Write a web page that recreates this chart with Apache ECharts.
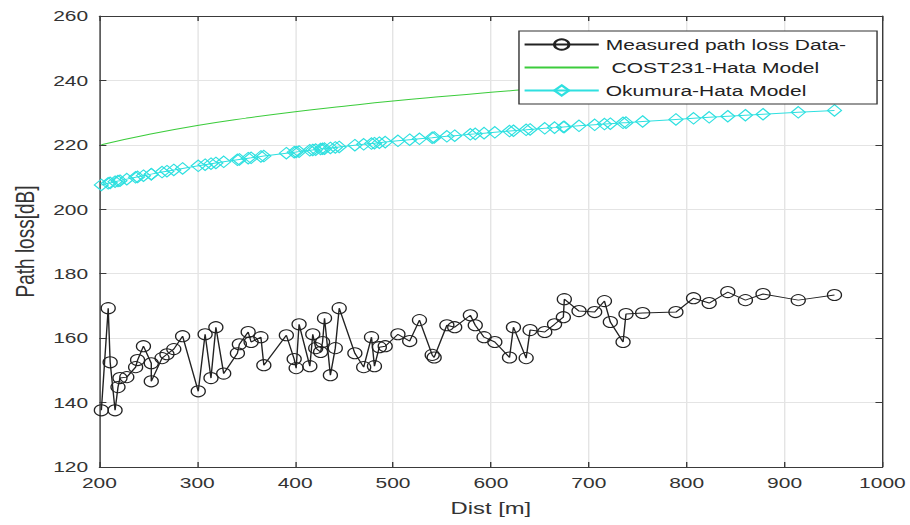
<!DOCTYPE html>
<html><head><meta charset="utf-8">
<script src="https://cdn.jsdelivr.net/npm/echarts@6/dist/echarts.min.js"></script>
<style>
html,body{margin:0;padding:0;background:#fff;overflow:hidden;}
#wrap{width:910px;height:525px;overflow:hidden;}
#chart{width:650px;height:525px;transform:scaleX(1.4);transform-origin:0 0;}
</style></head><body><div id="wrap"><div id="chart"></div></div>
<script>
// Distances (m) of measurement points
const distances = [202,209,211,216,219,221,228,237,239,245,253,253,264,269,276,285,301,308,314,319,327,341,343,352,355,365,368,391,399,401,404,415,418,421,426,428,430,436,441,445,461,470,478,481,486,492,505,517,527,540,542,555,563,579,584,593,604,619,623,636,640,655,665,674,675,690,706,716,722,735,738,755,789,807,823,842,860,878,914,951];
// Measured path loss (dB)
const measured = [137.6,169.3,152.5,137.6,144.8,147.6,147.9,151,153.2,157.5,152.2,146.6,153.8,155,156.6,160.6,143.5,161.2,147.6,163.4,149,155.3,158.1,161.9,158.8,160.3,151.6,160.9,153.5,150.7,164.3,151.3,161.2,156.9,155.7,158.8,166.2,148.5,156.9,169.3,155.3,151,160.3,151.3,157.2,157.5,161.2,159.1,165.6,154.8,154,164,163.4,167.1,164,160.3,158.8,154,163.4,153.8,162.5,161.9,164.3,166.5,172.1,168.4,168.1,171.5,165,158.8,167.5,167.8,168.1,172.4,170.9,174.3,171.8,173.7,171.8,173.4];
// Okumura-Hata model (dB) at the same distances
const okumura = [207.55,208.06,208.2,208.55,208.76,208.89,209.36,209.94,210.06,210.43,210.91,210.91,211.55,211.83,212.21,212.69,213.51,213.85,214.14,214.38,214.74,215.37,215.46,215.85,215.97,216.39,216.51,217.41,217.72,217.79,217.9,218.3,218.41,218.52,218.7,218.77,218.83,219.04,219.21,219.35,219.88,220.17,220.42,220.51,220.67,220.85,221.24,221.59,221.88,222.24,222.3,222.65,222.86,223.28,223.41,223.64,223.91,224.28,224.38,224.68,224.78,225.12,225.35,225.55,225.57,225.9,226.24,226.45,226.58,226.85,226.9,227.25,227.9,228.24,228.54,228.88,229.19,229.5,230.1,230.69];
// COST231-Hata model (dB)
const costDist = [202,250,300,350,400,450,500,550,600,650,700,750,800,850,900,951];
const cost231 = [220.05,223.2,226.0,228.3,230.3,232.0,233.6,235.0,236.3,237.5,238.6,239.6,240.6,241.5,242.4,243.2];
const seriesNames = ['Measured path loss Data-', ' COST231-Hata Model', 'Okumura-Hata Model'];

const FONT = "'Liberation Sans', Arial, Helvetica, sans-serif";
const TXT = '#333';
const AX = '#3a3a3a';
const chart = echarts.init(document.getElementById('chart'), null, {renderer: 'svg'});
const boxAxis = {
  axisLine: {show: true, lineStyle: {color: AX, width: 1}},
  axisTick: {show: true, inside: true, length: 5, lineStyle: {color: AX}},
  axisLabel: {show: false},
  splitLine: {show: false}
};
chart.setOption({
  animation: false,
  backgroundColor: '#fff',
  textStyle: {fontFamily: FONT},
  grid: {left: 67.9, right: 19.3, top: 16, bottom: 58},
  legend: {
    orient: 'vertical', left: 370.7, top: 31,
    itemWidth: 53, itemHeight: 13, itemGap: 8,
    padding: [6, 22, 6, 3],
    backgroundColor: '#fff', borderColor: '#333', borderWidth: 1, borderRadius: 0,
    textStyle: {fontFamily: FONT, fontSize: 15, color: '#222'},
    data: seriesNames
  },
  xAxis: [
    {type: 'value', min: 200, max: 1000, interval: 100,
     name: 'Dist [m]', nameLocation: 'middle', nameGap: 32,
     nameTextStyle: {fontFamily: FONT, fontSize: 17, color: TXT},
     axisLine: {show: true, onZero: false, lineStyle: {color: AX, width: 1}},
     axisTick: {show: true, inside: true, length: 5, lineStyle: {color: AX}},
     axisLabel: {fontFamily: FONT, fontSize: 15, color: TXT, margin: 8, formatter: v => String(v)},
     splitLine: {show: true, lineStyle: {color: '#e4e4e4', width: 1}}},
    Object.assign({type: 'value', position: 'top', min: 200, max: 1000, interval: 100}, boxAxis)
  ],
  yAxis: [
    {type: 'value', min: 120, max: 260, interval: 20,
     name: 'Path loss[dB]', nameLocation: 'middle', nameGap: 44,
     nameTextStyle: {fontFamily: FONT, fontSize: 19, color: TXT},
     axisLine: {show: true, onZero: false, lineStyle: {color: AX, width: 1}},
     axisTick: {show: true, inside: true, length: 5, lineStyle: {color: AX}},
     axisLabel: {fontFamily: FONT, fontSize: 15, color: TXT, margin: 8, formatter: v => String(v)},
     splitLine: {show: true, lineStyle: {color: '#e4e4e4', width: 1}}},
    Object.assign({type: 'value', position: 'right', min: 120, max: 260, interval: 20}, boxAxis)
  ],
  series: [
    {name: seriesNames[0], type: 'line', xAxisIndex: 0, yAxisIndex: 0,
     data: distances.map((d, i) => [d, measured[i]]),
     symbol: 'circle', symbolSize: [10, 11], showAllSymbol: true,
     lineStyle: {color: '#222', width: 1},
     itemStyle: {color: 'rgba(255,255,255,0)', borderColor: '#222', borderWidth: 1}},
    {name: seriesNames[1], type: 'line', xAxisIndex: 0, yAxisIndex: 0,
     data: costDist.map((d, i) => [d, cost231[i]]),
     symbol: 'none', smooth: true,
     lineStyle: {color: '#3ccc3c', width: 1},
     itemStyle: {color: '#3ccc3c', opacity: 0}},
    {name: seriesNames[2], type: 'line', xAxisIndex: 0, yAxisIndex: 0,
     data: distances.map((d, i) => [d, okumura[i]]),
     symbol: 'diamond', symbolSize: [10, 11.5], showAllSymbol: true,
     lineStyle: {color: '#2fe0e0', width: 1},
     itemStyle: {color: 'rgba(255,255,255,0)', borderColor: '#2fe0e0', borderWidth: 1}}
  ]
});
</script></body></html>
